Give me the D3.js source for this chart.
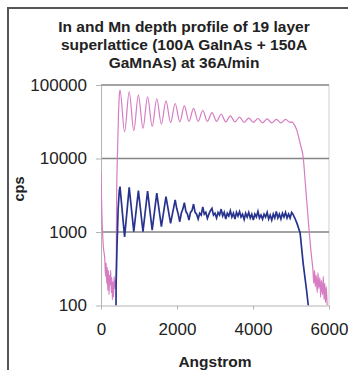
<!DOCTYPE html>
<html>
<head>
<meta charset="utf-8">
<script src="https://cdn.jsdelivr.net/npm/d3@7"></script>
<style>
  body { margin: 0; background: #fff; }
  svg { display: block; font-family: "Liberation Sans", Arial, sans-serif; }
  .axis path, .axis line { stroke: #b4b4b4; }
  .axis text { fill: #222; font-size: 17px; }
</style>
</head>
<body>
<div id="chart"></div>
<script>
// In trace (pink): depth in Angstrom, counts per second
const inDepth = [0, 15, 30, 60, 100, 120, 135, 150, 165, 180, 195, 210, 225, 240, 255, 270, 285, 300, 315, 330, 345, 360, 375, 390, 400,
  410, 430, 460, 485, 500, 621, 742, 863, 984, 1105, 1226, 1347, 1468, 1589, 1710, 1831, 1952, 2073, 2194, 2315, 2436, 2557,
  2678, 2799, 2920, 3041, 3162, 3283, 3404, 3525, 3646, 3767, 3888, 4009, 4130, 4251, 4372, 4493, 4614, 4735, 4856, 4977,
  5020, 5100, 5150, 5240, 5325, 5370, 5410, 5455, 5480, 5530, 5580, 5600, 5620, 5640, 5660, 5690, 5710, 5730, 5760, 5780,
  5800, 5830, 5850, 5870, 5890, 5910, 5930, 5950];
const inCps = [6500, 2600, 1400, 650, 420, 250, 380, 200, 330, 160, 300, 140, 260, 190, 300, 150, 240, 120, 210, 130, 250, 170, 220, 180, 300,
  2500, 10000, 40000, 75000, 85000, 23000, 81000, 24000, 73000, 25800, 69000, 27300, 65000, 29300, 61000, 30800, 56000, 31600, 52000, 32000, 48000, 32000,
  45000, 32000, 42000, 32000, 40000, 31500, 38000, 31500, 36500, 31000, 35500, 31000, 35000, 30500, 34500, 30500, 34000, 30500, 34000, 31000,
  31500, 28000, 24500, 16000, 10000, 5100, 2800, 1450, 1000, 520, 290, 200, 300, 180, 260, 150, 280, 170, 240, 130,
  220, 140, 250, 120, 200, 110, 180, 100];

// Mn trace (blue)
const mnDepth = [395, 397, 420, 450, 480, 500, 621, 742, 863, 984, 1105, 1226, 1347, 1468, 1589, 1710, 1831, 1952,
  1992, 2032, 2073, 2113, 2153, 2194, 2234, 2274, 2315, 2355, 2395, 2436, 2476, 2516, 2557, 2597, 2637, 2678,
  2718, 2758, 2799, 2839, 2879, 2920, 2960, 3000, 3041, 3081, 3121, 3162, 3202, 3242, 3283, 3323, 3363, 3404,
  3444, 3484, 3525, 3565, 3605, 3646, 3686, 3726, 3767, 3807, 3847, 3888, 3928, 3968, 4009, 4049, 4089, 4130,
  4170, 4210, 4251, 4291, 4331, 4372, 4412, 4452, 4493, 4533, 4573, 4614, 4654, 4694, 4735, 4775, 4815, 4856,
  4896, 4936, 4977, 5017, 5050, 5100, 5160, 5240, 5320, 5410, 5455];
const mnCps = [100, 190, 600, 2000, 3600, 4150, 860, 4050, 1010, 3650, 1010, 3600, 1060, 3370, 1180, 3030, 1310, 2730,
  2100, 1750, 1380, 1800, 2050, 2500, 1900, 1750, 1450, 1850, 1950, 2400, 1850, 1750, 1500, 1800, 1700, 2200,
  1750, 1850, 1530, 1750, 1950, 2100, 1700, 1800, 1550, 1850, 1700, 2050, 1650, 1850, 1500, 1800, 1650, 1950,
  1600, 1800, 1500, 1850, 1650, 1900, 1600, 1750, 1480, 1800, 1600, 1850, 1550, 1750, 1450, 1750, 1600, 1900,
  1550, 1700, 1500, 1750, 1600, 1850, 1500, 1700, 1450, 1750, 1550, 1900, 1550, 1750, 1500, 1800, 1600, 1850,
  1550, 1750, 1550, 1850, 1750, 1550, 1300, 970, 375, 160, 100];

const xTicks = [0, 2000, 4000, 6000];
const yTicks = [100, 1000, 10000, 100000];
const titleLines = ["In and Mn depth profile of 19 layer", "superlattice (100A GaInAs + 150A", "GaMnAs) at 36A/min"];

const W = 348, H = 370;
const margin = { top: 85, right: 19, bottom: 64.5, left: 101 },
  width = W - margin.left - margin.right,
  height = H - margin.top - margin.bottom;

const svg = d3.select("#chart").append("svg")
  .attr("width", W)
  .attr("height", H);

// outer frame (only top and left edges are visible)
svg.append("path")
  .attr("d", "M8,370 L8,8 L348,8")
  .attr("fill", "none")
  .attr("stroke", "#555")
  .attr("stroke-width", 2);

// title
svg.append("g").selectAll("text")
  .data(titleLines)
  .join("text")
  .attr("x", 184)
  .attr("y", (d, i) => 32 + i * 17.9)
  .attr("text-anchor", "middle")
  .attr("font-size", "15.5px")
  .attr("font-weight", "bold")
  .attr("fill", "#222")
  .text(d => d);

const g = svg.append("g")
  .attr("transform", "translate(" + margin.left + "," + margin.top + ")");

const x = d3.scaleLinear().domain([0, 6000]).range([0, width]);
const y = d3.scaleLog().domain([100, 100000]).range([height, 0]);

// plot area right border
g.append("line")
  .attr("x1", width).attr("x2", width)
  .attr("y1", 0).attr("y2", height)
  .attr("stroke", "#d0d0d0");

// gridlines
g.append("g").selectAll("line")
  .data(yTicks.filter(d => d > 100))
  .join("line")
  .attr("x1", 0).attr("x2", width)
  .attr("y1", d => y(d)).attr("y2", d => y(d))
  .attr("stroke", "#858585")
  .attr("stroke-width", 1.3);

g.append("g")
  .attr("class", "x axis")
  .attr("transform", "translate(0," + height + ")")
  .call(d3.axisBottom(x).tickValues(xTicks).tickSize(4).tickSizeOuter(0).tickPadding(13.5).tickFormat(d3.format("d")));

g.append("g")
  .attr("class", "y axis")
  .call(d3.axisLeft(y).tickValues(yTicks).tickSize(5).tickSizeOuter(0).tickPadding(9).tickFormat(d3.format("d")));

// axis titles
svg.append("text")
  .attr("x", margin.left + width / 2)
  .attr("y", 367)
  .attr("text-anchor", "middle")
  .attr("font-size", "15.5px")
  .attr("font-weight", "bold")
  .attr("fill", "#222")
  .text("Angstrom");

svg.append("text")
  .attr("transform", "translate(24,189) rotate(-90)")
  .attr("text-anchor", "middle")
  .attr("font-size", "14.5px")
  .attr("font-weight", "bold")
  .attr("fill", "#222")
  .text("cps");

g.append("clipPath").attr("id", "clip")
  .append("rect").attr("x", 0).attr("y", 0).attr("width", width).attr("height", height);

const inLine = d3.line()
  .x((d, i) => x(inDepth[i]))
  .y(d => y(d))
  .curve(d3.curveMonotoneX);

const mnLine = d3.line()
  .x((d, i) => x(mnDepth[i]))
  .y(d => y(d));

g.append("path")
  .attr("clip-path", "url(#clip)")
  .attr("d", inLine(inCps))
  .attr("fill", "none")
  .attr("stroke", "#d67cc2")
  .attr("stroke-width", 1.2);

g.append("path")
  .attr("clip-path", "url(#clip)")
  .attr("d", mnLine(mnCps))
  .attr("fill", "none")
  .attr("stroke", "#27338c")
  .attr("stroke-width", 1.7);
</script>
</body>
</html>
